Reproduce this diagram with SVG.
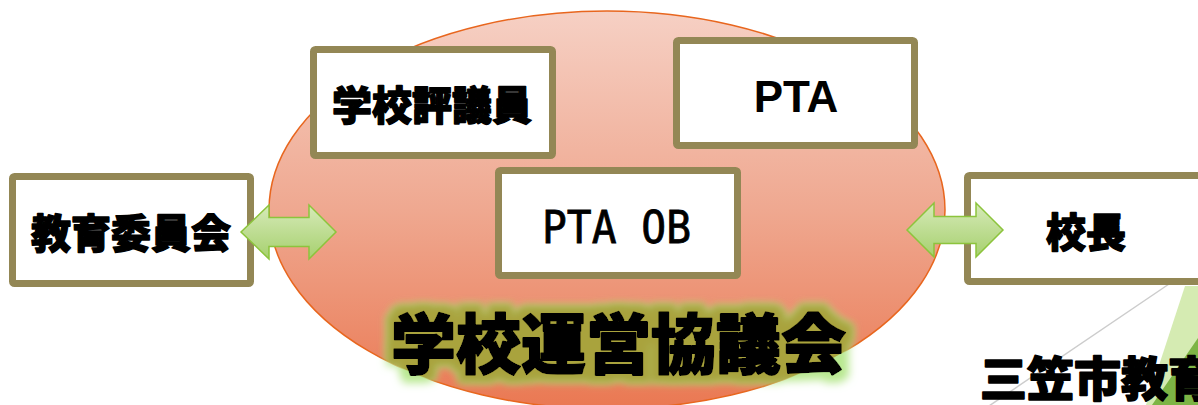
<svg xmlns="http://www.w3.org/2000/svg" width="1198" height="405" viewBox="0 0 1198 405">
<defs>
<linearGradient id="ellG" x1="0" y1="0" x2="0" y2="1">
<stop offset="0" stop-color="#F6D0C4"/>
<stop offset="0.5" stop-color="#EFA890"/>
<stop offset="1" stop-color="#EA7852"/>
</linearGradient>
<linearGradient id="arrG" x1="0" y1="0" x2="0" y2="1">
<stop offset="0" stop-color="#D6EAB8"/>
<stop offset="1" stop-color="#A6D06E"/>
</linearGradient>
<clipPath id="ellClip"><ellipse cx="607" cy="210" rx="338" ry="199"/></clipPath>
<filter id="glowOut" x="-10%" y="-40%" width="120%" height="180%">
<feMorphology in="SourceAlpha" operator="dilate" radius="7" result="d"/>
<feGaussianBlur in="d" stdDeviation="4" result="b"/>
<feFlood flood-color="#B8E890"/>
<feComposite in2="b" operator="in" result="g"/>
<feMerge><feMergeNode in="g"/><feMergeNode in="SourceGraphic"/></feMerge>
</filter>
<filter id="glowIn" x="-10%" y="-40%" width="120%" height="180%">
<feMorphology in="SourceAlpha" operator="dilate" radius="7" result="d"/>
<feGaussianBlur in="d" stdDeviation="3.5" result="b"/>
<feFlood flood-color="#A9A33E"/>
<feComposite in2="b" operator="in" result="g"/>
<feMerge><feMergeNode in="g"/><feMergeNode in="SourceGraphic"/></feMerge>
</filter>
<style>
.box{fill:#fff;stroke:#938755;stroke-width:7;}
.jp{font-family:"Noto Sans CJK JP","Noto Sans CJK SC",sans-serif;font-weight:900;fill:#000;stroke:#000;stroke-width:1.4;stroke-linejoin:round;text-anchor:middle;}
.arrow{fill:url(#arrG);stroke:#8CC43C;stroke-width:1.5;stroke-linejoin:miter;}
.title{font-family:"Noto Sans CJK JP","Noto Sans CJK SC",sans-serif;font-weight:900;font-size:65px;fill:#000;stroke:#000;stroke-width:2;stroke-linejoin:round;text-anchor:middle;}
</style>
</defs>

<g id="background">
<polygon points="1185,286 1198,286 1198,405 1146,405" fill="#D5EBB2"/>
<polygon points="1198,338 1198,405 1152,405" fill="#7DB445"/>
<line x1="1172" y1="282" x2="986" y2="408" stroke="#CCCCCC" stroke-width="1.5"/>
</g>

<g id="council">
<ellipse cx="607" cy="210" rx="338" ry="199" fill="url(#ellG)" stroke="#E8661E" stroke-width="1.5"/>
</g>

<g id="node-kyoiku">
<rect class="box" x="12.5" y="176.5" width="238" height="107" rx="2"/>
<text class="jp" x="131" y="248" font-size="40">教育委員会</text>
</g>

<g id="node-hyogiin">
<rect class="box" x="313.5" y="49.5" width="239" height="106" rx="2"/>
<text class="jp" x="432" y="120" font-size="40">学校評議員</text>
</g>

<g id="node-pta">
<rect class="box" x="676.5" y="40.5" width="238" height="105" rx="2"/>
<text x="796" y="112" font-family="Liberation Sans, Arial, sans-serif" font-weight="bold" font-size="44" text-anchor="middle">PTA</text>
</g>

<g id="node-ptaob">
<rect class="box" x="498.5" y="170.5" width="239" height="105" rx="2"/>
<text x="542" y="243" font-family="DejaVu Sans Mono, monospace" font-size="44" stroke="#000" stroke-width="0.8" textLength="149" lengthAdjust="spacingAndGlyphs">PTA OB</text>
</g>

<g id="node-kocho">
<rect class="box" x="967.5" y="175.5" width="260" height="106" rx="2"/>
<text class="jp" x="1086" y="247" font-size="40">校長</text>
</g>

<g id="connectors">
<path class="arrow" d="M241,232 L269,205 L269,217.5 L309,217.5 L309,205 L336,232 L309,259 L309,246.5 L269,246.5 L269,259 Z"/>
<path class="arrow" d="M907,230 L934,203 L934,216.5 L976,216.5 L976,203 L1003,230 L976,257 L976,243.5 L934,243.5 L934,257 Z"/>
</g>

<g id="title">
<text class="title" x="618.5" y="368" filter="url(#glowOut)">学校運営協議会</text>
<g clip-path="url(#ellClip)">
<text class="title" x="618.5" y="368" filter="url(#glowIn)">学校運営協議会</text>
</g>
</g>

<g id="label-mikasa">
<text x="980" y="396" font-family="Noto Sans CJK JP, Noto Sans CJK SC, sans-serif" font-weight="900" font-size="47" stroke="#000" stroke-width="1.6" stroke-linejoin="round">三笠市教育</text>
</g>
</svg>
